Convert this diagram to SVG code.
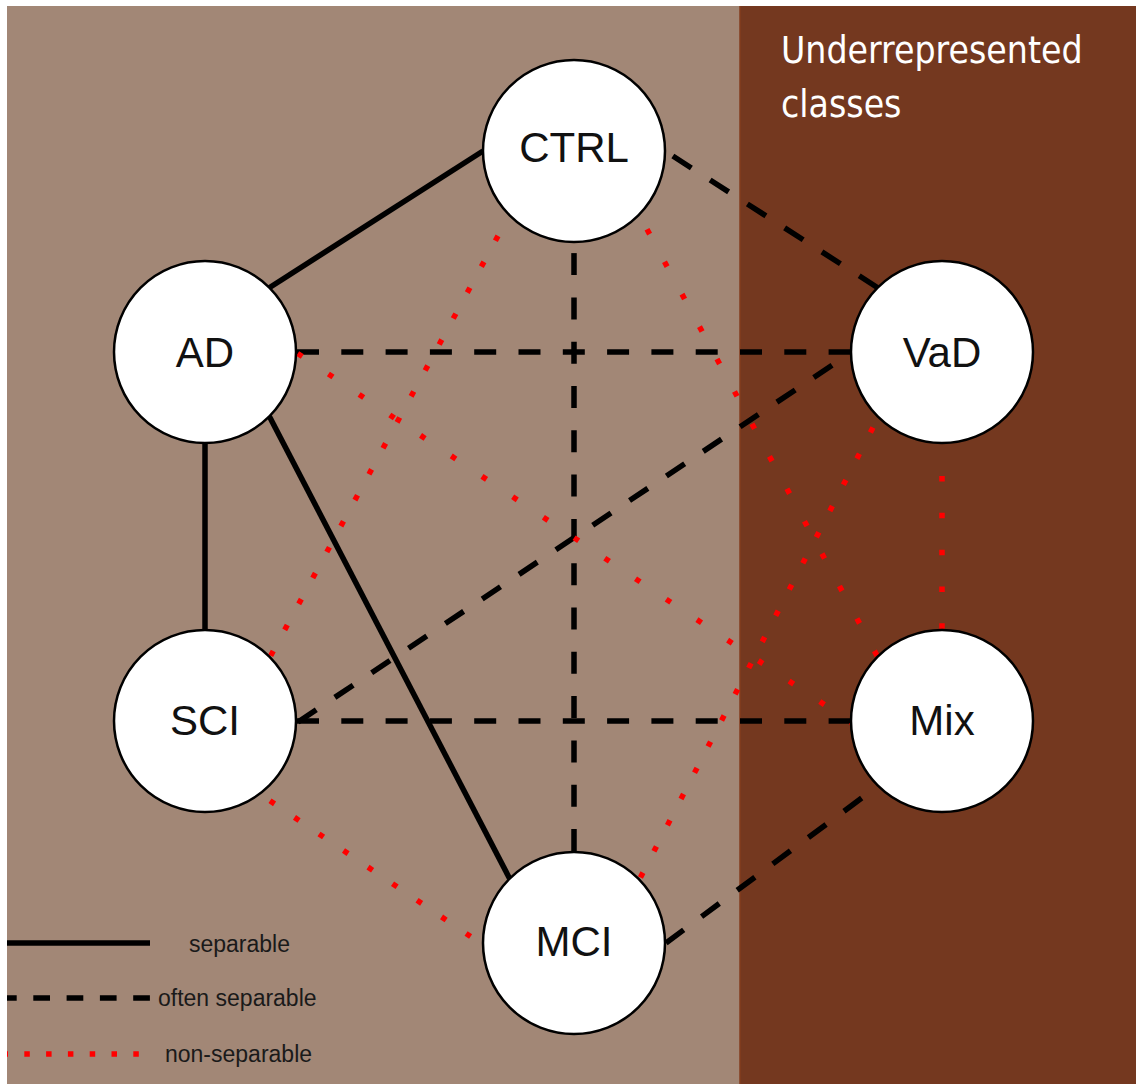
<svg xmlns="http://www.w3.org/2000/svg" width="1136" height="1084" viewBox="0 0 1136 1084">
  <style>
    .node circle { fill: #ffffff; stroke: #000000; stroke-width: 2.5; }
    .node text { font-family: "Liberation Sans", Arial, sans-serif; font-size: 42px; fill: #111111; text-anchor: middle; }
    .solid { stroke: #000000; stroke-width: 5.5; fill: none; }
    .dash { stroke: #000000; stroke-width: 5.5; fill: none; stroke-dasharray: 22 22.3; }
    .dot { stroke: #ff0000; stroke-width: 5.5; fill: none; }
    .legend text { font-family: "Liberation Sans", Arial, sans-serif; font-size: 23px; fill: #1a1a1a; }
    .title { font-family: "DejaVu Sans Condensed", "DejaVu Sans", sans-serif; font-size: 37px; fill: #ffffff; }
  </style>
  <rect x="0" y="0" width="1136" height="1084" fill="#ffffff"/>
  <g id="background">
    <rect x="7" y="6" width="733" height="1078" fill="#A28776"/>
    <rect x="739.5" y="6" width="396.5" height="1078" fill="#74381F"/>
    <line x1="740" y1="6" x2="740" y2="1084" stroke="#8a3f1c" stroke-width="1"/>
  </g>
  <g id="title">
    <text class="title" x="781" y="63">Underrepresented</text>
    <text class="title" x="781" y="117">classes</text>
  </g>
  <g id="connectors">
    <!-- separable -->
    <line class="solid" x1="483" y1="151" x2="269.3" y2="287.7"/>
    <line class="solid" x1="205" y1="443" x2="205" y2="630"/>
    <line class="solid" x1="269.3" y1="416.3" x2="509.7" y2="878.7"/>
    <!-- often separable -->
    <line class="dash" x1="877.7" y1="287.7" x2="665" y2="151"/>
    <line class="dash" x1="297" y1="352" x2="852" y2="352"/>
    <line class="dash" x1="574" y1="851" x2="574" y2="242"/>
    <line class="dash" x1="298" y1="722" x2="852" y2="352"/>
    <line class="dash" x1="297" y1="721" x2="852" y2="721"/>
    <line class="dash" x1="666" y1="943" x2="878" y2="786"/>
    <!-- non-separable -->
    <line class="dot" x1="498.0" y1="235.9" x2="270.7" y2="655.7" stroke-dasharray="5.5 24"/>
    <line class="dot" x1="297.7" y1="353.5" x2="855.1" y2="725.1" stroke-dasharray="5.5 31.41"/>
    <line class="dot" x1="647.0" y1="229.3" x2="877.0" y2="655.7" stroke-dasharray="5.5 31.35"/>
    <line class="dot" x1="872.96" y1="427.56" x2="640.44" y2="877.44" stroke-dasharray="5.5 23.97"/>
    <line class="dot" x1="942" y1="476.05" x2="942" y2="628.75" stroke-dasharray="5.5 31.3"/>
    <line class="dot" x1="270.0" y1="800.8" x2="470.6" y2="936.5" stroke-dasharray="5.5 24.09"/>
  </g>
  <g id="node-ctrl" class="node">
    <circle cx="574" cy="151" r="91"/>
    <text x="574" y="162">CTRL</text>
  </g>
  <g id="node-ad" class="node">
    <circle cx="205" cy="352" r="91"/>
    <text x="205" y="367">AD</text>
  </g>
  <g id="node-vad" class="node">
    <circle cx="942" cy="352" r="91"/>
    <text x="942" y="367">VaD</text>
  </g>
  <g id="node-sci" class="node">
    <circle cx="205" cy="721" r="91"/>
    <text x="205" y="735">SCI</text>
  </g>
  <g id="node-mix" class="node">
    <circle cx="942" cy="721" r="91"/>
    <text x="942" y="735">Mix</text>
  </g>
  <g id="node-mci" class="node">
    <circle cx="574" cy="943" r="91"/>
    <text x="574" y="956">MCI</text>
  </g>
  <g id="legend" class="legend">
    <line class="solid" x1="7" y1="943" x2="150" y2="943"/>
    <text x="189" y="952">separable</text>
    <line x1="7" y1="998" x2="150" y2="998" stroke="#000000" stroke-width="5.5" stroke-dasharray="16.7 16.6" stroke-dashoffset="7"/>
    <text x="158" y="1006">often separable</text>
    <line x1="7" y1="1054" x2="139" y2="1054" stroke="#ff0000" stroke-width="5.5" stroke-dasharray="5.5 16.3" stroke-dashoffset="4.5"/>
    <text x="165" y="1062">non-separable</text>
  </g>
</svg>
